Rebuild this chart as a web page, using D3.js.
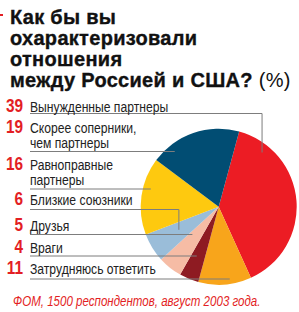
<!DOCTYPE html>
<meta charset="utf-8">
<script src="https://d3js.org/d3.v7.min.js"></script>
<style>
  html, body { margin: 0; padding: 0; background: #fff; }
  svg { display: block; }
  .title { font-family: 'Liberation Sans', Arial, sans-serif; font-weight: bold; font-size: 20px; fill: #111; stroke: #111; stroke-width: 0.35px; letter-spacing: 0.3px; }
  .num { font-family: 'Liberation Sans', Arial, sans-serif; font-weight: bold; font-size: 19px; fill: #e31e24; }
  .lab { font-family: 'Liberation Sans', Arial, sans-serif; font-size: 15px; fill: #222; }
  .src { font-family: 'Liberation Sans', Arial, sans-serif; font-style: italic; font-size: 15px; fill: #e31e24; }
</style>
<body>
<div id="chart"></div>
<script>

// data
var values = [39, 11, 4, 5, 6, 16, 19];
var labels = [
  ["Вынужденные партнеры"],
  ["Затрудняюсь ответить"],
  ["Враги"],
  ["Друзья"],
  ["Близкие союзники"],
  ["Равноправные", "партнеры"],
  ["Скорее соперники,", "чем партнеры"]
];
var colors = ["#ec1c24", "#f8a51b", "#8e1b22", "#f6bca5", "#9abdd9", "#fec90f", "#014d73"];
var titleLines = ["Как бы вы", "охарактеризовали", "отношения", "между Россией и США?"];
var source = "ФОМ, 1500 респондентов, август 2003 года.";

// order of the legend rows, top to bottom
var rowOrder = [0, 6, 5, 4, 3, 2, 1];
var rowY = [111.5, 133, 170, 205, 230.5, 252.5, 274];
var leaderY = [113.5, 151.5, 189, 209.5, 234.5, 256, 279];
// where each leader ends inside the pie: [angle deg, radius]
var leaderEnd = [[38.6, 69.5], [171.4, 73.8], [203.7, 54.6], [222.7, 38.8], [240, 46], [284, 70], [321.1, 70]];

var W = 299, H = 312;
var cx = 218.7, cy = 206.8, R = 78;
var narrow = 0.81; // no condensed face installed, squeeze instead

var svg = d3.select("#chart").append("svg")
  .attr("width", W).attr("height", H);

function narrowText(cls, x, y, txt, anchor, sx) {
  return svg.append("text").attr("class", cls)
    .attr("transform", "translate(" + x + "," + y + ") scale(" + (sx || narrow) + ",1)")
    .attr("text-anchor", anchor || "start")
    .text(txt);
}

// little red mark at the corner
svg.append("rect").attr("x", 0).attr("y", 14).attr("width", 3).attr("height", 2).attr("fill", "#e31e24");

// title
var title = svg.append("text").attr("class", "title").attr("x", 10);
titleLines.forEach(function(t, i) {
  title.append("tspan").attr("x", 10).attr("y", 23.5 + i * 21.3).text(t);
});
title.append("tspan").style("font-weight", "normal").style("stroke-width", 0).text(" (%)");

// pie
var pie = d3.pie().sort(null)
  .startAngle(15.2 * Math.PI / 180)
  .endAngle(15.2 * Math.PI / 180 + 2 * Math.PI);
var arcs = pie(values);
var arc = d3.arc().innerRadius(0).outerRadius(R);

var g = svg.append("g").attr("transform", "translate(" + cx + "," + cy + ")");
g.selectAll("path").data(arcs).enter().append("path")
  .attr("d", arc)
  .attr("fill", function(d, i) { return colors[i]; });

// leaders
function endPoint(i) {
  var a = leaderEnd[i][0] * Math.PI / 180, r = leaderEnd[i][1];
  return [cx + r * Math.sin(a), cy - r * Math.cos(a)];
}
var lead = svg.append("g").attr("stroke", "#7d7d7d").attr("stroke-width", 1).attr("fill", "none");
rowOrder.forEach(function(k, row) {
  var p = endPoint(k);
  var y = leaderY[row];
  var pts;
  if (Math.abs(p[1] - y) > 3) pts = [[30, y], [p[0], y], [p[0], p[1]]];
  else pts = [[30, y], [p[0], y]];
  lead.append("path").attr("d", d3.line()(pts));
});

// legend rows
rowOrder.forEach(function(k, row) {
  narrowText("num", 23, rowY[row], values[k], "end");
  labels[k].forEach(function(t, j) {
    narrowText("lab", 30, rowY[row] + j * 14.5, t);
  });
});

// source
narrowText("src", 13, 306, source, "start", 0.77);

</script>
</body>
